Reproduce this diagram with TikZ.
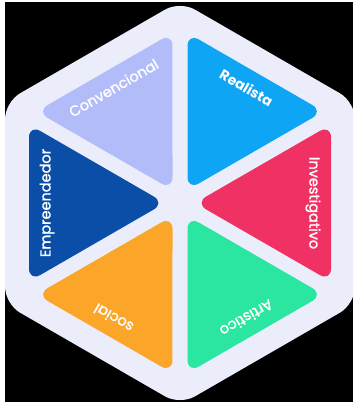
\documentclass[tikz,border=0pt]{standalone}
\usepackage{fontspec}
\setmainfont{Poppins}
\newfontface\pmed{Poppins}[FakeBold=1.3]
\usetikzlibrary{calc}
\definecolor{hexbg}{RGB}{235,237,251}
\definecolor{cconv}{RGB}{178,188,248}
\definecolor{creal}{RGB}{14,165,244}
\definecolor{cinv}{RGB}{240,49,99}
\definecolor{cart}{RGB}{42,230,160}
\definecolor{csoc}{RGB}{251,166,41}
\definecolor{cemp}{RGB}{11,78,168}
\begin{document}
\begin{tikzpicture}[x=1pt,y=1pt,
  tri/.style={rounded corners=13pt},
  lab/.style={text=white,inner sep=0pt,font=\fontsize{14.5}{14.5}\selectfont\pmed},
  labb/.style={lab,font=\fontsize{14}{14}\selectfont\bfseries}]
\useasboundingbox (0,0) rectangle (353,406);
\fill[white] (0,0) rectangle (353,406);
\begin{scope}
\clip (0,0) rectangle (353,406);
\fill[black] (5,4) rectangle (353,404);
\coordinate (C) at (180,203);
\fill[hexbg, rounded corners=17pt] ($(C)+(90:202)$) -- ($(C)+(150:202)$) -- ($(C)+(210:202)$) -- ($(C)+(270:202)$) -- ($(C)+(330:202)$) -- ($(C)+(30:202)$) -- cycle;
% Realista
\begin{scope}[shift={(C)}, rotate=-30, transform shape]
\fill[creal, tri] (0,15) -- (78.5,151) -- (-78.5,151) -- cycle;
\node[labb] (real) at (0,133) {Realista};
\end{scope}
% Convencional
\begin{scope}[shift={(C)}, rotate=30, transform shape]
\fill[cconv, tri] (0,15) -- (78.5,151) -- (-78.5,151) -- cycle;
\node[lab] (conv) at (0,133) {Convencional};
\end{scope}
% Empreendedor
\begin{scope}[shift={(C)}, rotate=90, transform shape]
\fill[cemp, tri] (0,15) -- (78.5,151) -- (-78.5,151) -- cycle;
\node[lab] (emp) at (0,133) {Empreendedor};
\end{scope}
% social
\begin{scope}[shift={(C)}, rotate=150, transform shape]
\fill[csoc, tri] (0,15) -- (78.5,151) -- (-78.5,151) -- cycle;
\node[lab] (soc) at (0,133) {social};
\end{scope}
% Artistico
\begin{scope}[shift={(C)}, rotate=210, transform shape]
\fill[cart, tri] (0,15) -- (78.5,151) -- (-78.5,151) -- cycle;
\node[lab] (art) at (0,133) {Artistico};
\end{scope}
% Investigativo
\begin{scope}[shift={(C)}, rotate=-90, transform shape]
\fill[cinv, tri] (0,15) -- (78.5,151) -- (-78.5,151) -- cycle;
\node[lab] (inv) at (0,133) {Investigativo};
\end{scope}
\end{scope}
\end{tikzpicture}
\end{document}
